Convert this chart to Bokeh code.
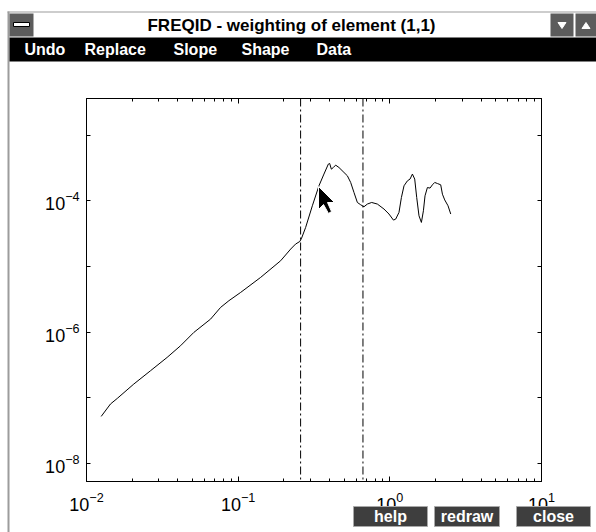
from bokeh.plotting import figure
from bokeh.layouts import column
from bokeh.models import Range1d, FixedTicker, LogAxis, Span, CustomJSTickFormatter
from bokeh.core.properties import value
from bokeh.embed import file_html
from bokeh.resources import INLINE

# ---------------- data ----------------
freq = [0.0125, 0.01439, 0.01596, 0.0205, 0.0264, 0.0340, 0.0417, 0.0510, 0.0658, 0.0766,
        0.0869, 0.1038, 0.1406, 0.1905, 0.222, 0.239, 0.255, 0.262, 0.2786, 0.3084,
        0.3409, 0.3678, 0.3932, 0.4011, 0.4115, 0.4242, 0.4393, 0.4620, 0.4984, 0.5248,
        0.5519, 0.5801, 0.6109, 0.6423, 0.6755, 0.7109, 0.7590, 0.8275, 0.9151, 0.9874,
        1.056, 1.093, 1.149, 1.192, 1.240, 1.306, 1.359, 1.409, 1.459, 1.504,
        1.557, 1.615, 1.665, 1.706, 1.769, 1.841, 1.909, 1.977, 2.060, 2.165,
        2.222, 2.301, 2.419, 2.521]
magnitude = [5.21e-8, 8.05e-8, 9.8e-8, 1.62e-7, 2.58e-7, 4.12e-7, 6.21e-7, 9.9e-7, 1.58e-6, 2.38e-6,
             3.01e-6, 4.02e-6, 6.81e-6, 1.22e-5, 1.84e-5, 2.19e-5, 2.40e-5, 2.70e-5, 3.93e-5, 8.39e-5,
             1.69e-4, 2.55e-4, 3.62e-4, 3.70e-4, 3.03e-4, 3.21e-4, 3.49e-4, 3.21e-4, 2.70e-4, 2.40e-4,
             1.90e-4, 1.34e-4, 9.42e-5, 8.69e-5, 8.11e-5, 8.91e-5, 9.42e-5, 8.91e-5, 7.48e-5, 6.28e-5,
             5.08e-5, 5.26e-5, 6.64e-5, 1.12e-4, 1.69e-4, 2.01e-4, 2.14e-4, 2.55e-4, 2.14e-4, 1.12e-4,
             5.91e-5, 4.68e-5, 7.05e-5, 1.19e-4, 1.59e-4, 1.56e-4, 1.75e-4, 1.90e-4, 1.83e-4, 1.75e-4,
             1.26e-4, 1.03e-4, 8.39e-5, 6.28e-5]
cursor_freqs = [0.258, 0.665]

x_limits = [0.01, 10.0]
y_limits = [10 ** -8.274, 10 ** -2.443]
x_major_ticks = [0.01, 0.1, 1.0, 10.0]
x_minor_ticks = [0.02, 0.03, 0.04, 0.05, 0.06, 0.07, 0.08, 0.09,
                 0.2, 0.3, 0.4, 0.5, 0.6, 0.7, 0.8, 0.9,
                 2.0, 3.0, 4.0, 5.0, 6.0, 7.0, 8.0, 9.0]
y_major_ticks = [1e-8, 1e-6, 1e-4]
y_minor_ticks = [1e-7, 1e-5, 1e-3]

title_text = "FREQID - weighting of element (1,1)"
menu_items = ["Undo", "Replace", "Slope", "Shape", "Data"]
button_labels = ["help", "redraw", "close"]

# ---------------- main plot ----------------
W, H = 596, 532
FONT = "'Liberation Sans', Arial, sans-serif"

p = figure(width=W, height=H, x_axis_type="log", y_axis_type="log",
           x_range=Range1d(*x_limits), y_range=Range1d(*y_limits),
           output_backend="svg", toolbar_location=None,
           min_border_left=86, min_border_right=55, min_border_top=98, min_border_bottom=51)
p.frame_align = False
p.grid.visible = False
p.outline_line_color = "black"
p.background_fill_color = "white"
p.border_fill_color = "white"

top_ax = LogAxis()
right_ax = LogAxis()
p.add_layout(top_ax, "above")
p.add_layout(right_ax, "right")


def style_axis(ax, major, minor, maj_len, min_len, labels, standoff):
    ax.ticker = FixedTicker(ticks=major, minor_ticks=minor)
    ax.major_tick_in = maj_len
    ax.major_tick_out = 0
    ax.minor_tick_in = min_len
    ax.minor_tick_out = 0
    ax.axis_line_color = "black"
    ax.major_tick_line_color = "black"
    ax.minor_tick_line_color = "black"
    ax.major_label_text_font = FONT
    ax.major_label_text_font_size = "18px"
    ax.major_label_text_color = "black"
    ax.major_label_standoff = standoff
    if not labels:
        ax.formatter = CustomJSTickFormatter(code="return ''")


style_axis(p.below[0], x_major_ticks, x_minor_ticks, 5, 3, True, 10)
style_axis(top_ax, x_major_ticks, x_minor_ticks, 5, 3, False, 0)
style_axis(p.left[0], y_major_ticks, y_minor_ticks, 4, 4, True, 7)
style_axis(right_ax, y_major_ticks, y_minor_ticks, 4, 4, False, 0)

p.line(freq, magnitude, line_color="black", line_width=1)
for f in cursor_freqs:
    p.add_layout(Span(location=f, dimension="height", line_color="black",
                      line_width=1, line_dash="8 3 2 3"))

# ---------------- window chrome (transparent overlay, pixel coordinates) ----------------
c = figure(width=W, height=H, x_range=Range1d(0, W), y_range=Range1d(H, 0),
           output_backend="svg", toolbar_location=None,
           x_axis_location=None, y_axis_location=None,
           min_border=0, min_border_left=0, min_border_right=0,
           min_border_top=0, min_border_bottom=0, margin=(-H, 0, 0, 0))
c.frame_align = False
c.grid.visible = False
c.outline_line_color = None
c.background_fill_alpha = 0
c.border_fill_alpha = 0

# outer window border
c.quad(left=[7, 7], right=[9, 596], top=[11, 11], bottom=[532, 12],
       fill_color="#9c9c9c", line_color=None)
# system-menu box and min/max buttons
c.quad(left=[9, 550, 575], right=[33, 573, 596], top=[13, 13, 13], bottom=[36, 36, 36],
       fill_color="#5c5c5c", line_color=None)
c.quad(left=[13], right=[29], top=[22], bottom=[26], fill_color="white", line_color="black")
c.patches(xs=[[557.5, 565.5, 561.5], [581.5, 589.5, 585.5]],
          ys=[[22, 22, 28], [28, 28, 22]], fill_color="white", line_color="white")
# title text
c.text(x=[291], y=[25], text=[title_text], text_font=value(FONT), text_font_size=value("17px"),
       text_font_style="bold", text_color="black", text_align="center", text_baseline="middle")
# menu bar
c.quad(left=[9], right=[596], top=[37], bottom=[61], fill_color="black", line_color=None)
c.text(x=[24, 84, 173, 241, 316], y=[49] * 5, text=menu_items, text_font=value(FONT),
       text_font_size=value("16px"), text_font_style="bold", text_color="white",
       text_align="left", text_baseline="middle")
# push buttons
bl, br = [353, 434, 516], [427, 499, 590]
c.quad(left=bl, right=br, top=[506] * 3, bottom=[526] * 3,
       fill_color="#3e3e3e", line_color="#a8a8a8", line_width=1)
c.text(x=[(a + b) / 2 for a, b in zip(bl, br)], y=[516] * 3, text=button_labels,
       text_font=value(FONT), text_font_size=value("16px"), text_font_style="bold",
       text_color="white", text_align="center", text_baseline="middle")
# mouse pointer
ptr_x = [318, 318, 323, 328, 331, 327, 334]
ptr_y = [186, 209, 204, 213, 211, 202, 202]
c.patch(ptr_x, ptr_y, fill_color="black", line_color="white", line_width=1)

layout = column(p, c, spacing=0)
open("out.html", "w").write(file_html(layout, INLINE))
